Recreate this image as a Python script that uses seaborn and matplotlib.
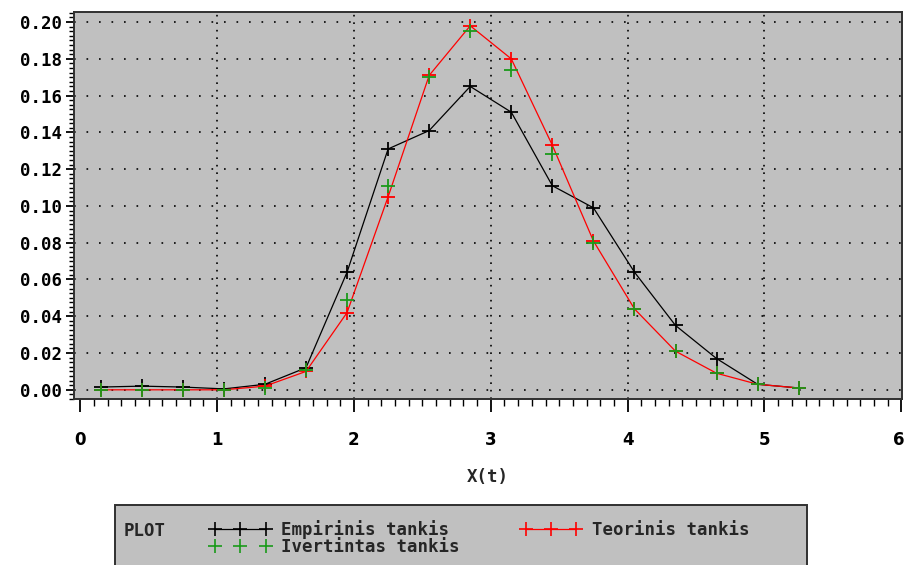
import matplotlib
matplotlib.use("Agg")
import matplotlib.pyplot as plt
import matplotlib.transforms as mtransforms
from matplotlib.lines import Line2D
from matplotlib.patches import Rectangle
from matplotlib.ticker import MultipleLocator, FormatStrFormatter
import pandas as pd
import seaborn as sns

# Bin midpoints
x_mid = [0.15, 0.45, 0.75, 1.05, 1.35, 1.65, 1.95, 2.25, 2.55, 2.85,
         3.15, 3.45, 3.75, 4.05, 4.35, 4.65, 4.95, 5.25]

# Empirical density
empirinis = [0.0015, 0.002, 0.0015, 0.0005, 0.003, 0.012, 0.064, 0.131, 0.141, 0.165,
             0.151, 0.111, 0.099, 0.064, 0.035, 0.017, 0.003, 0.001]

# Theoretical density
teorinis = [0.0, 0.0, 0.0, 0.0, 0.002, 0.010, 0.042, 0.105, 0.171, 0.198,
            0.180, 0.133, 0.081, 0.044, 0.021, 0.009, 0.003, 0.001]

# Estimated density
ivertintas = [0.0, 0.0, 0.0, 0.0, 0.001, 0.011, 0.049, 0.111, 0.170, 0.195,
              0.174, 0.128, 0.080, 0.044, 0.021, 0.009, 0.003, 0.001]

x_ticks = [0, 1, 2, 3, 4, 5, 6]
y_ticks = [0.00, 0.02, 0.04, 0.06, 0.08, 0.10, 0.12, 0.14, 0.16, 0.18, 0.20]

df_emp = pd.DataFrame({"x": x_mid, "y": empirinis})
df_teo = pd.DataFrame({"x": x_mid, "y": teorinis})
df_ivt = pd.DataFrame({"x": x_mid, "y": ivertintas})

sns.set_theme(style="white")
plt.rcParams["font.family"] = ["DejaVu Sans Mono", "DejaVu Sans"]

GRAY = "#c0c0c0"
GREEN = "#1a9a1a"
RED = "#ff0000"
MONO = ["DejaVu Sans Mono", "DejaVu Sans"]

fig = plt.figure(figsize=(9.05, 5.65), dpi=100, facecolor="white")
ax = fig.add_axes([0.0818, 0.2938, 0.9149, 0.685])
ax.set_facecolor(GRAY)

sns.lineplot(data=df_emp, x="x", y="y", ax=ax, color="black", lw=0.9,
             estimator=None, sort=False, zorder=3, marker="+", markersize=10,
             markeredgewidth=1.3, markeredgecolor="black")
sns.lineplot(data=df_teo, x="x", y="y", ax=ax, color=RED, lw=0.9,
             estimator=None, sort=False, zorder=4, marker="+", markersize=10,
             markeredgewidth=1.3, markeredgecolor=RED)
sns.scatterplot(data=df_ivt, x="x", y="y", ax=ax, color=GREEN, marker="+",
                s=100, linewidth=1.3, zorder=5)

ax.set_xlim(-0.045, 6.005)
ax.set_ylim(-0.005, 0.2055)

ax.set_xticks(x_ticks)
ax.set_yticks(y_ticks)
ax.xaxis.set_minor_locator(MultipleLocator(0.1))
ax.yaxis.set_minor_locator(MultipleLocator(0.0025))
ax.yaxis.set_major_formatter(FormatStrFormatter("%.2f"))

ax.tick_params(axis="y", which="major", direction="out", length=6, width=1.3,
               colors="black", labelsize=12.5, pad=3, left=True)
ax.tick_params(axis="y", which="minor", direction="out", length=3.5, width=1.0,
               colors="black", left=True)
ax.tick_params(axis="x", which="major", direction="out", length=9, width=1.3,
               colors="black", labelsize=12, pad=14, bottom=True)
ax.tick_params(axis="x", which="minor", direction="out", length=5, width=1.0,
               colors="black", bottom=True)
for lab in ax.get_yticklabels():
    lab.set_fontweight("bold")
xlabels = ax.get_xticklabels()
for lab in xlabels:
    lab.set_fontweight("bold")
    lab.set_family(["DejaVu Sans"])
# keep the last label inside the figure edge
xlabels[-1].set_transform(xlabels[-1].get_transform() +
                          mtransforms.ScaledTranslation(-3 / 100, 0, fig.dpi_scale_trans))

# dotted reference grid
for yv in y_ticks:
    ax.axhline(yv, color="black", lw=1.2, ls=(0, (1, 6.5)), zorder=1)
for xv in x_ticks[1:-1]:
    ax.axvline(xv, color="black", lw=1.2, ls=(0, (1, 3.5)), zorder=1)

for s in ax.spines.values():
    s.set_color("#303030")
    s.set_linewidth(1.4)

ax.set_xlabel("X(t)", fontsize=12.5, fontweight="bold", labelpad=14, family=MONO)
ax.set_ylabel("")

# legend panel
fig.patches.append(Rectangle((115 / 905, -0.01), (807 - 115) / 905, (565 - 505) / 565 + 0.01,
                             transform=fig.transFigure, facecolor=GRAY,
                             edgecolor="#303030", lw=1.4, zorder=0))
fig.text(124 / 905, 1 - 531 / 565, "PLOT", fontsize=12.5, fontweight="bold",
         va="center", ha="left", family=MONO)

handles = [
    Line2D([], [], color="black", lw=0.9, marker="+", markersize=10, markeredgewidth=1.2),
    Line2D([], [], color=GREEN, lw=0, marker="+", markersize=10, markeredgewidth=1.2),
    Line2D([], [], color=RED, lw=0.9, marker="+", markersize=10, markeredgewidth=1.2),
]
labels = ["Empirinis tankis", "Ivertintas tankis", "Teorinis tankis"]
fig.legend(handles, labels, ncol=2, frameon=False, numpoints=3,
           handlelength=3.5, handletextpad=0.6, columnspacing=3.5,
           labelspacing=-0.05, loc="upper left",
           bbox_to_anchor=(210 / 905, 1 - 520 / 565),
           prop={"size": 12.5, "family": MONO, "weight": "bold"},
           borderaxespad=0, borderpad=0)

fig.savefig("out.png", dpi=100, facecolor="white")
